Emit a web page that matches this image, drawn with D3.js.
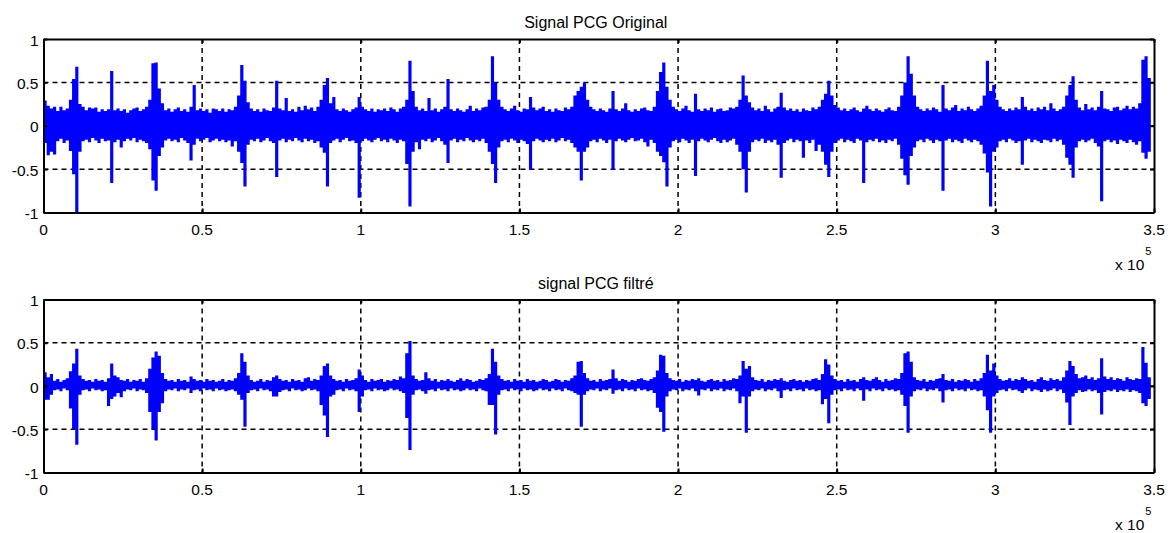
<!DOCTYPE html>
<html>
<head>
<meta charset="utf-8">
<script src="https://cdn.jsdelivr.net/npm/d3@7"></script>
<style>
  body { margin: 0; background: #fff; }
  text { font-family: Arial, "Liberation Sans", sans-serif; fill: #000; }
</style>
</head>
<body>
<svg id="pcg" width="1175" height="533"></svg>
<script>
// signal envelopes, one value per block of 1000 samples, in hundredths
var binSize = 1000;

var topHi = [
  29,23,20,22,17,22,18,20,30,54,68,25,22,18,21,20,21,16,19,17,
  19,63,18,20,17,19,15,18,20,21,17,19,22,30,72,73,43,26,18,20,
  16,19,21,17,19,16,22,47,18,20,17,19,15,20,19,17,20,16,19,18,
  22,35,70,52,27,20,17,19,16,20,18,17,21,52,20,18,32,17,19,16,
  22,18,23,19,21,17,22,30,47,55,26,33,19,17,20,18,16,19,21,33,
  22,19,17,20,16,19,18,20,17,21,19,16,20,22,30,75,40,22,18,20,
  17,32,18,20,16,19,22,54,19,17,20,18,16,19,23,17,20,18,21,22,
  30,80,50,30,22,19,17,20,23,18,16,20,19,33,21,18,20,22,17,19,
  16,20,18,17,21,19,22,35,40,45,50,30,22,19,17,20,18,16,20,40,
  19,17,20,26,18,16,19,17,20,21,18,17,22,40,62,73,45,30,22,19,
  17,20,23,18,16,37,19,17,20,18,21,16,19,20,17,18,21,20,22,30,
  58,35,27,21,18,20,17,23,19,16,20,22,38,21,18,20,17,19,16,20,
  18,17,21,19,22,30,37,52,35,24,21,18,20,17,19,21,18,16,20,23,
  19,17,20,18,16,19,21,18,17,22,35,50,80,60,35,22,19,17,20,18,
  21,19,16,47,20,18,21,24,17,20,18,22,19,17,20,23,35,75,40,47,
  30,22,19,17,20,18,21,19,33,22,18,20,17,21,19,22,18,26,20,17,
  19,22,35,47,57,30,21,18,25,19,21,18,22,40,20,19,17,21,22,18,
  20,23,19,22,20,26,76,80,55
];
var topLo = [
  -20,-34,-30,-33,-18,-15,-20,-17,-29,-56,-100,-30,-18,-16,-19,-14,-17,-20,-15,-18,
  -17,-66,-19,-16,-25,-18,-15,-17,-14,-19,-16,-18,-20,-27,-63,-75,-35,-25,-17,-15,
  -18,-16,-19,-14,-17,-20,-40,-22,-15,-18,-16,-14,-19,-17,-15,-18,-16,-19,-17,-24,
  -18,-30,-43,-70,-22,-16,-18,-15,-19,-17,-14,-18,-20,-59,-17,-15,-19,-16,-18,-14,
  -17,-19,-15,-18,-16,-20,-18,-25,-31,-70,-20,-17,-15,-19,-16,-14,-18,-17,-20,-83,
  -18,-15,-17,-19,-16,-14,-18,-16,-19,-15,-17,-20,-16,-18,-44,-93,-30,-19,-27,-16,
  -18,-15,-19,-17,-14,-18,-22,-43,-17,-15,-19,-16,-18,-14,-17,-19,-16,-18,-15,-20,
  -30,-44,-66,-25,-18,-16,-19,-15,-17,-20,-16,-18,-21,-51,-18,-15,-17,-19,-16,-18,
  -15,-19,-17,-14,-18,-16,-20,-25,-30,-63,-30,-25,-18,-16,-19,-15,-17,-20,-16,-51,
  -18,-15,-17,-19,-16,-14,-18,-17,-15,-19,-24,-16,-20,-30,-35,-42,-70,-25,-18,-16,
  -19,-15,-17,-20,-16,-58,-18,-15,-17,-19,-16,-14,-18,-20,-16,-19,-17,-15,-22,-30,
  -50,-77,-30,-19,-16,-18,-15,-20,-17,-19,-16,-22,-60,-20,-17,-15,-19,-16,-18,-37,
  -17,-20,-16,-29,-22,-30,-45,-59,-30,-20,-17,-15,-19,-16,-18,-20,-15,-17,-66,-19,
  -16,-18,-15,-19,-17,-20,-16,-18,-15,-22,-38,-57,-68,-35,-25,-18,-16,-19,-15,-17,
  -20,-16,-18,-75,-17,-15,-19,-16,-18,-20,-15,-17,-19,-16,-18,-22,-32,-54,-93,-30,
  -25,-18,-16,-19,-15,-17,-20,-18,-45,-17,-15,-19,-16,-18,-20,-16,-17,-19,-15,-18,
  -16,-22,-37,-45,-60,-25,-18,-16,-19,-17,-15,-20,-24,-87,-18,-16,-19,-17,-21,-16,
  -18,-20,-16,-19,-22,-18,-31,-38,-30
];
var botHi = [
  16,10,14,6,8,5,7,9,17,26,43,12,8,6,7,5,8,6,7,5,
  9,26,12,10,7,6,8,5,7,6,8,5,9,20,33,40,35,15,8,6,
  7,5,8,6,7,5,11,8,6,7,5,8,6,7,5,6,8,5,7,6,
  9,15,38,28,12,7,5,6,8,5,7,6,10,12,8,6,7,5,8,6,
  7,5,9,10,6,8,7,12,23,26,12,8,6,7,5,8,6,7,9,19,
  12,7,5,8,6,7,8,5,7,6,8,7,11,9,38,52,12,8,6,7,
  16,9,6,8,5,7,6,8,6,5,7,9,6,8,7,5,6,8,7,9,
  14,43,28,12,8,6,7,5,8,6,7,5,8,6,7,5,6,8,7,5,
  6,8,7,5,7,6,9,12,28,29,15,9,6,7,5,8,6,7,8,19,
  9,6,8,7,5,7,6,8,9,7,6,8,10,18,36,35,15,9,7,6,
  8,5,7,6,8,7,9,6,5,7,8,6,7,5,8,6,7,9,8,12,
  29,20,23,10,7,6,8,5,7,6,8,7,9,6,5,7,8,6,7,5,
  7,6,8,9,7,14,31,25,12,8,6,7,5,8,6,7,5,8,10,7,
  6,8,10,7,5,8,6,7,9,8,15,38,40,28,10,7,6,8,5,7,
  6,8,9,14,7,6,8,5,7,6,8,7,5,8,6,9,15,36,18,26,
  12,8,6,7,9,6,8,7,10,8,6,7,5,8,10,7,6,9,7,8,
  6,10,18,29,23,14,9,10,12,8,10,7,9,32,11,8,10,7,9,8,
  6,10,8,7,9,8,45,27,10
];
var botLo = [
  -16,-16,-10,-5,-4,-6,-3,-5,-26,-50,-68,-10,-5,-4,-6,-3,-5,-4,-6,-5,
  -23,-15,-12,-8,-13,-6,-4,-5,-3,-6,-4,-5,-8,-30,-50,-63,-30,-20,-6,-4,
  -5,-3,-6,-4,-5,-3,-8,-5,-4,-6,-3,-5,-4,-6,-3,-5,-4,-6,-5,-4,
  -6,-10,-16,-47,-8,-5,-4,-6,-3,-5,-4,-6,-12,-12,-7,-5,-4,-6,-3,-5,
  -4,-6,-5,-3,-5,-4,-6,-22,-34,-59,-12,-10,-5,-4,-6,-3,-5,-4,-6,-30,
  -12,-5,-4,-6,-3,-5,-4,-6,-5,-3,-5,-4,-6,-8,-37,-74,-10,-5,-4,-6,
  -9,-5,-4,-6,-3,-5,-4,-6,-3,-5,-4,-6,-5,-3,-5,-4,-6,-3,-5,-6,
  -22,-22,-56,-10,-5,-4,-6,-3,-5,-4,-6,-3,-5,-4,-6,-5,-3,-5,-4,-6,
  -3,-5,-4,-6,-3,-5,-6,-8,-10,-47,-10,-6,-4,-5,-3,-6,-4,-5,-3,-9,
  -5,-4,-6,-3,-5,-4,-6,-3,-5,-4,-6,-5,-8,-25,-30,-53,-12,-6,-4,-5,
  -3,-6,-4,-5,-3,-6,-11,-4,-5,-3,-6,-4,-5,-3,-6,-4,-5,-3,-6,-20,
  -12,-54,-12,-6,-4,-5,-3,-6,-4,-5,-3,-6,-14,-5,-4,-6,-3,-5,-4,-6,
  -3,-5,-4,-6,-5,-21,-15,-43,-10,-5,-4,-6,-3,-5,-4,-6,-3,-5,-17,-4,
  -6,-3,-5,-4,-6,-3,-5,-4,-6,-5,-10,-23,-54,-12,-6,-4,-5,-3,-6,-4,
  -5,-3,-6,-19,-5,-4,-6,-3,-5,-4,-6,-3,-5,-4,-6,-5,-12,-28,-54,-12,
  -8,-5,-4,-6,-3,-5,-4,-6,-8,-5,-3,-6,-4,-5,-7,-4,-6,-5,-3,-6,
  -4,-8,-19,-45,-12,-8,-5,-7,-6,-4,-6,-5,-8,-33,-7,-5,-6,-4,-7,-5,
  -6,-4,-7,-5,-6,-8,-20,-23,-15
];

var xTicks = [0, 0.5, 1, 1.5, 2, 2.5, 3, 3.5];
var yTicks = [-1, -0.5, 0, 0.5, 1];
var xMax = 3.5;
var titles = ["Signal PCG Original", "signal PCG filtré"];

// layout
let svg = d3.select("svg#pcg");
let left = 43.5, right = 1154;
let panels = [
  { top: 39, bottom: 212.5, hi: topHi, lo: topLo, title: titles[0] },
  { top: 299.5, bottom: 472.5, hi: botHi, lo: botLo, title: titles[1] }
];

let xScale = d3.scaleLinear().domain([0, xMax]).range([left, right]);

panels.forEach(function (p) {
  let yScale = d3.scaleLinear().domain([-1, 1]).range([p.bottom, p.top]);
  let g = svg.append("g");

  // dashed grid behind the data
  g.selectAll(".vgrid")
    .data(xTicks.slice(1, -1))
    .enter()
    .append("line")
    .attr("x1", (d) => xScale(d))
    .attr("x2", (d) => xScale(d))
    .attr("y1", p.top)
    .attr("y2", p.bottom)
    .attr("stroke", "#000")
    .attr("stroke-width", 1.5)
    .attr("stroke-dasharray", "5,4");
  g.selectAll(".hgrid")
    .data(yTicks.slice(1, -1))
    .enter()
    .append("line")
    .attr("x1", left)
    .attr("x2", right)
    .attr("y1", (d) => yScale(d))
    .attr("y2", (d) => yScale(d))
    .attr("stroke", "#000")
    .attr("stroke-width", 1.5)
    .attr("stroke-dasharray", "5,4");

  // signal: filled band between block max and block min
  let pts = p.hi.map(function (h, i) {
    return { t: (i * binSize) / 1e5, hi: h / 100, lo: p.lo[i] / 100 };
  });
  let last = pts[pts.length - 1];
  pts.push({ t: (p.hi.length * binSize) / 1e5, hi: last.hi, lo: last.lo });
  let area = d3
    .area()
    .curve(d3.curveStepAfter)
    .x((d) => xScale(d.t))
    .y0((d) => yScale(d.lo))
    .y1((d) => yScale(d.hi));
  g.append("path")
    .attr("d", area(pts))
    .attr("fill", "#0000ff");

  // axes box with inward ticks
  let xb = d3.axisBottom(xScale).tickValues(xTicks).tickSizeInner(-4).tickSizeOuter(0).tickFormat("");
  let xt = d3.axisTop(xScale).tickValues(xTicks).tickSizeInner(-4).tickSizeOuter(0).tickFormat("");
  let yl = d3.axisLeft(yScale).tickValues(yTicks).tickSizeInner(-4).tickSizeOuter(0).tickFormat("");
  let yr = d3.axisRight(yScale).tickValues(yTicks).tickSizeInner(-4).tickSizeOuter(0).tickFormat("");
  [
    [xb, "translate(0," + p.bottom + ")"],
    [xt, "translate(0," + p.top + ")"],
    [yl, "translate(" + left + ",0)"],
    [yr, "translate(" + right + ",0)"]
  ].forEach(function (a) {
    let ax = g.append("g").attr("transform", a[1]).call(a[0]);
    ax.select(".domain").attr("stroke", "#000").attr("stroke-width", 2);
    ax.selectAll(".tick line").attr("stroke", "#000").attr("stroke-width", 2);
  });

  // tick labels
  g.selectAll(".xlab")
    .data(xTicks)
    .enter()
    .append("text")
    .attr("x", (d) => xScale(d))
    .attr("y", p.bottom + 22.5)
    .attr("text-anchor", "middle")
    .style("font-size", "15.5px")
    .text((d) => d);
  g.selectAll(".ylab")
    .data(yTicks)
    .enter()
    .append("text")
    .attr("x", left - 5)
    .attr("y", (d) => yScale(d) + 6.5)
    .attr("text-anchor", "end")
    .style("font-size", "15.5px")
    .text((d) => d);

  // exponent label
  let ex = g.append("text")
    .attr("x", 1115)
    .attr("y", p.bottom + 57.5)
    .style("font-size", "15.5px");
  ex.append("tspan").text("x 10");
  ex.append("tspan").attr("dx", 1).attr("dy", -15).style("font-size", "11px").text("5");

  // title
  g.append("text")
    .attr("x", (left + right) / 2 - 3)
    .attr("y", p.top - 11)
    .attr("text-anchor", "middle")
    .style("font-size", "16px")
    .text(p.title);
});
</script>
</body>
</html>
